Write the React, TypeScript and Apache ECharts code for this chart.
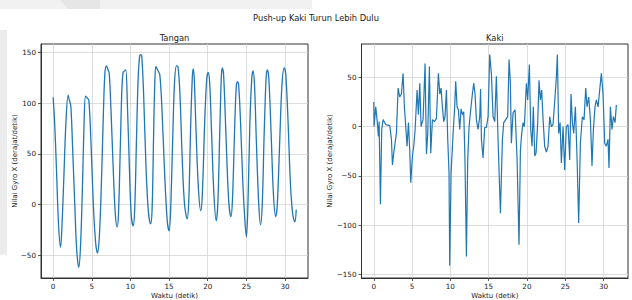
import React, { useEffect, useRef } from 'react';
import * as echarts from 'echarts';

const xTicks = [0, 5, 10, 15, 20, 25, 30];
const tanganYTicks = [-50, 0, 50, 100, 150];
const kakiYTicks = [-150, -100, -50, 0, 50];

const tanganTime = [
  0.0, 0.2, 0.45, 0.7, 0.96, 1.15, 1.4, 1.65, 1.94, 2.1, 2.29, 2.5, 2.8, 3.05, 3.32, 3.55, 3.8, 4.0, 4.19, 4.4,
  4.62, 4.9, 5.2, 5.5, 5.74, 5.95, 6.2, 6.5, 6.7, 6.9, 7.05, 7.25, 7.5, 7.8, 8.05, 8.28, 8.45, 8.7, 8.9, 9.06,
  9.25, 9.4, 9.6, 9.85, 10.1, 10.35, 10.55, 10.8, 11.0, 11.2, 11.35, 11.47, 11.7, 12.0, 12.3, 12.6, 12.8, 13.0, 13.15, 13.29,
  13.5, 13.8, 14.1, 14.4, 14.75, 15.0, 15.2, 15.45, 15.7, 15.96, 16.15, 16.4, 16.7, 17.0, 17.34, 17.55, 17.8, 18.0, 18.11, 18.25,
  18.5, 18.8, 19.1, 19.3, 19.6, 19.85, 20.05, 20.25, 20.5, 20.8, 21.1, 21.3, 21.55, 21.75, 21.87, 22.05, 22.35, 22.7, 22.99, 23.2,
  23.5, 23.7, 23.85, 24.0, 24.25, 24.55, 24.8, 25.0, 25.2, 25.45, 25.7, 25.87, 26.05, 26.3, 26.6, 26.83, 27.05, 27.3, 27.55, 27.7,
  27.9, 28.2, 28.5, 28.8, 29.0, 29.3, 29.6, 29.9, 30.1, 30.4, 30.7, 31.0, 31.27, 31.45,
];
const tanganValue = [
  106, 80, 31, -20, -42, -20, 30, 80, 108, 103, 97, 60, 0, -45, -62, -40, 20, 80, 107, 105,
  103, 60, 0, -38, -48, -35, 10, 90, 130, 137, 134, 130, 90, 30, -10, -22, -10, 60, 115, 130.5,
  132, 133, 100, 40, -10, -21, -5, 70, 125, 147, 148, 146, 110, 40, -5, -19, -5, 70, 120, 136.5,
  133, 128, 90, 35, -15, -26, -5, 60, 120, 137, 136, 110, 45, 0, -14, 5, 80, 125, 134, 125,
  70, 15, -6, 10, 80, 122, 130.5, 120, 70, 10, -16, 0, 70, 125, 135, 128, 70, 5, -12, 5,
  80, 117, 121, 118, 80, 20, -15, -32, 0, 80, 125, 132, 118, 60, 0, -20, 0, 70, 125, 133,
  125, 70, 10, -12, 0, 60, 118, 135, 128, 80, 20, -10, -17, -5,
];

const kakiTime = [
  0.0, 0.04, 0.26, 0.43, 0.61, 0.7, 0.87, 1.04, 1.22, 1.57, 2.09, 2.31, 2.44, 2.61, 2.78, 2.96, 3.18, 3.39, 3.61, 3.83,
  4.0, 4.18, 4.35, 4.53, 4.7, 4.83, 5.05, 5.22, 5.4, 5.66, 5.83, 6.01, 6.18, 6.44, 6.7, 6.88, 7.05, 7.27, 7.44, 7.66,
  7.92, 8.18, 8.44, 8.62, 8.79, 8.96, 9.14, 9.3, 9.49, 9.66, 9.83, 9.92, 10.1, 10.36, 10.57, 10.7, 10.88, 11.05, 11.23, 11.4,
  11.58, 11.75, 11.92, 12.1, 12.27, 12.45, 12.66, 12.88, 13.05, 13.23, 13.4, 13.62, 13.84, 13.95, 14.06, 14.27, 14.49, 14.71, 14.93, 15.14,
  15.36, 15.58, 15.8, 16.01, 16.23, 16.54, 16.8, 16.97, 17.23, 17.49, 17.67, 17.84, 17.97, 18.19, 18.45, 18.71, 18.97, 19.15, 19.32, 19.5,
  19.67, 19.93, 20.1, 20.32, 20.5, 20.67, 20.84, 21.02, 21.19, 21.41, 21.58, 21.76, 21.93, 22.11, 22.32, 22.54, 22.76, 22.98, 23.19, 23.41,
  23.67, 23.85, 23.98, 24.15, 24.33, 24.5, 24.72, 24.93, 25.15, 25.37, 25.59, 25.76, 25.94, 26.11, 26.33, 26.54, 26.76, 26.98, 27.24, 27.46,
  27.68, 27.85, 28.07, 28.29, 28.5, 28.68, 28.89, 29.07, 29.29, 29.5, 29.72, 29.94, 30.16, 30.37, 30.59, 30.72, 30.9, 31.11, 31.29, 31.51,
  31.68,
];
const kakiValue = [
  25, 0, 20, 7, -10, 5, -79, -3, 7, 2, 1, -13, -39, -27, -17, -7, 39, 30, 33, 54,
  20, 0, -20, 4, -24, -57, -30, -20, -3, 37, 12, 44, 0, 7, 64, -28, -7, 61, -27, 7,
  5, 8, 54, 33, 39, 20, 5, 10, 37, -13, -47, -141, -47, -7, 20, 46, 20, 17, -3, 18,
  12, 15, -37, -132, -34, 0, 17, 33, 44, 33, 7, -3, 10, 38, -13, -32, -1, -1, 10, 73,
  54, 10, 5, 51, -13, -88, -13, 4, 7, 10, 68, 44, -17, 14, 17, -32, -120, -24, -7, 4,
  0, 44, 27, 63, -3, -20, 20, -30, -27, 4, 47, 27, 37, 7, -20, -26, -20, 10, 0, 2,
  30, 51, 73, -7, 4, -37, 0, -44, 0, 2, -34, 33, 4, -7, 20, -30, -98, -17, 10, 7,
  39, 20, 30, 7, -40, -3, 20, 27, 20, 37, 54, 33, -17, -20, -13, -42, 20, -3, 10, 4,
  22,
];

const FONT = 'DejaVu Sans';
const LINE = '#1f77b4';
const INK = '#222';
const SPINE = '#333';
const GRIDC = '#d4d4d4';

const minusFmt = (v: number) => String(v).replace('-', '\u2212');

function makeX(gridIndex: number, min: number, max: number) {
  return {
    type: 'value',
    gridIndex,
    min,
    max,
    axisLine: { show: true, onZero: false, lineStyle: { color: SPINE, width: 1 } },
    axisTick: { show: true, inside: false, length: 3, customValues: xTicks, lineStyle: { color: SPINE, width: 0.8 } },
    axisLabel: { customValues: xTicks, fontSize: 7.2, color: INK, fontFamily: FONT, margin: 5, formatter: minusFmt },
    splitLine: { show: true, lineStyle: { color: GRIDC, width: 0.8 } },
  };
}

function makeY(gridIndex: number, min: number, max: number, ticks: number[]) {
  return {
    type: 'value',
    gridIndex,
    min,
    max,
    axisLine: { show: true, onZero: false, lineStyle: { color: SPINE, width: 1 } },
    axisTick: { show: true, inside: false, length: 3, customValues: ticks, lineStyle: { color: SPINE, width: 0.8 } },
    axisLabel: { customValues: ticks, fontSize: 7.2, color: INK, fontFamily: FONT, margin: 5, formatter: minusFmt },
    splitLine: { show: true, lineStyle: { color: GRIDC, width: 0.8 } },
  };
}

function txt(x: number, y: number, text: string, size: number, rotation = 0) {
  return {
    type: 'text',
    x,
    y,
    rotation,
    style: {
      text,
      fontSize: size,
      fontFamily: FONT,
      fill: INK,
      align: 'center',
      verticalAlign: 'middle',
      textAlign: 'center',
      textVerticalAlign: 'middle',
    },
  };
}

export default function App() {
  const ref = useRef<HTMLDivElement>(null);
  useEffect(() => {
    if (!ref.current) return;
    const chart = echarts.init(ref.current, null, { renderer: 'svg' });
    const tanganData = tanganTime.map((t, i) => [t, tanganValue[i]]);
    const kakiData = kakiTime.map((t, i) => [t, kakiValue[i]]);
    const option = {
      animation: false,
      backgroundColor: '#ffffff',
      grid: [
        { left: 41, top: 44, width: 267, height: 234, show: true, borderColor: SPINE, borderWidth: 1, backgroundColor: 'transparent' },
        { left: 361.5, top: 44, width: 266.5, height: 234, show: true, borderColor: SPINE, borderWidth: 1, backgroundColor: 'transparent' },
      ],
      xAxis: [makeX(0, -1.57, 32.97), makeX(1, -1.6, 33.2)],
      yAxis: [makeY(0, -72.5, 158.5, tanganYTicks), makeY(1, -153.8, 83.8, kakiYTicks)],
      series: [
        {
          type: 'line',
          name: 'Tangan',
          xAxisIndex: 0,
          yAxisIndex: 0,
          data: tanganData,
          showSymbol: false,
          smooth: 0.35,
          lineStyle: { color: LINE, width: 1.3 },
        },
        {
          type: 'line',
          name: 'Kaki',
          xAxisIndex: 1,
          yAxisIndex: 1,
          data: kakiData,
          showSymbol: false,
          lineStyle: { color: LINE, width: 1.2 },
        },
      ],
      graphic: [
        { type: 'rect', z: -10, shape: { x: 0, y: 0, width: 312, height: 9 }, style: { fill: '#f1f1f1' } },
        { type: 'polygon', z: -9, shape: { points: [[60, 0], [100, 0], [100, 9], [68, 9]] }, style: { fill: '#e6e6e6' } },
        { type: 'rect', z: -10, shape: { x: 0, y: 30, width: 7, height: 225 }, style: { fill: '#ececec' } },
        txt(316, 18, 'Push-up Kaki Turun Lebih Dulu', 8.3),
        txt(174.5, 37.5, 'Tangan', 8.3),
        txt(494.8, 37.5, 'Kaki', 8.3),
        txt(174.5, 295.5, 'Waktu (detik)', 7),
        txt(494.8, 295.5, 'Waktu (detik)', 7),
        txt(15, 161, 'Nilai Gyro X (derajat/detik)', 7, Math.PI / 2),
        txt(330, 161, 'Nilai Gyro X (derajat/detik)', 7, Math.PI / 2),
      ],
    };
    chart.setOption(option as any);
    return () => chart.dispose();
  }, []);
  return <div ref={ref} style={{ position: 'fixed', left: 0, top: 0, width: 632, height: 300 }} />;
}
